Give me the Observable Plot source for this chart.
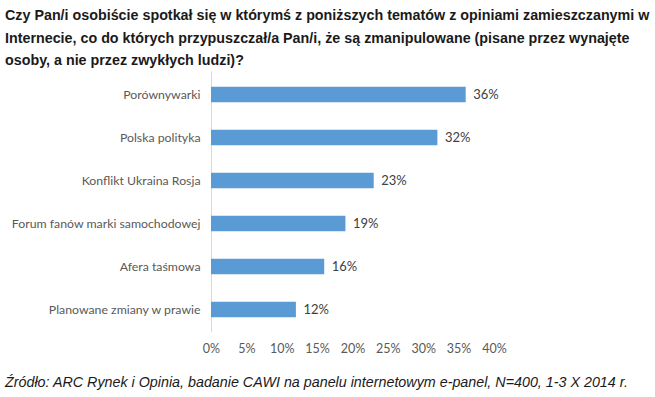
<!DOCTYPE html>
<html>
<head>
<meta charset="utf-8">
<script src="https://cdn.jsdelivr.net/npm/d3@7"></script>
<script src="https://cdn.jsdelivr.net/npm/@observablehq/plot@0.6"></script>
<style>
  body { margin: 0; background: #fff; width: 655px; height: 397px; position: relative; overflow: hidden; }
  #title { position: absolute; left: 5px; top: 4px; z-index: 2; white-space: nowrap; font-family: "Liberation Sans", Arial, sans-serif; font-weight: bold; font-size: 14.3px; line-height: 22.5px; color: #1a1a1a; }
  #chart { position: absolute; left: 0; top: 60px; z-index: 1; }
  #caption { position: absolute; left: 5px; top: 374px; font-family: "Liberation Sans", Arial, sans-serif; font-style: italic; font-size: 14.3px; color: #1a1a1a; white-space: nowrap; }
</style>
</head>
<body>
<div id="title">Czy Pan/i osobiście spotkał się w którymś z poniższych tematów z opiniami zamieszczanymi w<br>Internecie, co do których przypuszczał/a Pan/i, że są zmanipulowane (pisane przez wynajęte<br>osoby, a nie przez zwykłych ludzi)?</div>
<div id="chart"></div>
<div id="caption">Źródło: ARC Rynek i Opinia, badanie CAWI na panelu internetowym e-panel, N=400, 1-3 X 2014 r.</div>
<script>
const categories = ["Porównywarki", "Polska polityka", "Konflikt Ukraina Rosja", "Forum fanów marki samochodowej", "Afera taśmowa", "Planowane zmiany w prawie"];
const values = [36, 32, 23, 19, 16, 12];
const xTicks = [0, 5, 10, 15, 20, 25, 30, 35, 40];

const data = categories.map((c, i) => ({category: c, value: values[i]}));
const font = "Lato, 'Open Sans', sans-serif";

const plot = Plot.plot({
  width: 655,
  height: 300,
  marginLeft: 211,
  marginRight: 161,
  marginTop: 11.25,
  marginBottom: 27.75,
  style: {fontFamily: font, fontSize: "12.3px", color: "#595959", background: "transparent"},
  x: {domain: [0, 40], ticks: xTicks, tickFormat: d => d + "%", label: null},
  y: {domain: categories, padding: 0, label: null},
  marks: [
    Plot.ruleX([0], {stroke: "#d9d9d9", strokeWidth: 1}),
    Plot.barX(data, {y: "category", x: "value", fill: "#5B9BD5", insetTop: 13.75, insetBottom: 13.75}),
    Plot.text(data, {y: "category", x: "value", text: d => d.value + "%", dx: 7, textAnchor: "start", fill: "#404040", fontSize: 13}),
    Plot.axisX({ticks: xTicks, tickFormat: d => d + "%", tickSize: 0, tickPadding: 11, fill: "#595959", fontSize: 12.5, label: null}),
    Plot.axisY({tickSize: 0, tickPadding: 11, fill: "#595959", fontSize: 12.3, label: null})
  ]
});
document.getElementById("chart").appendChild(plot);
</script>
</body>
</html>
